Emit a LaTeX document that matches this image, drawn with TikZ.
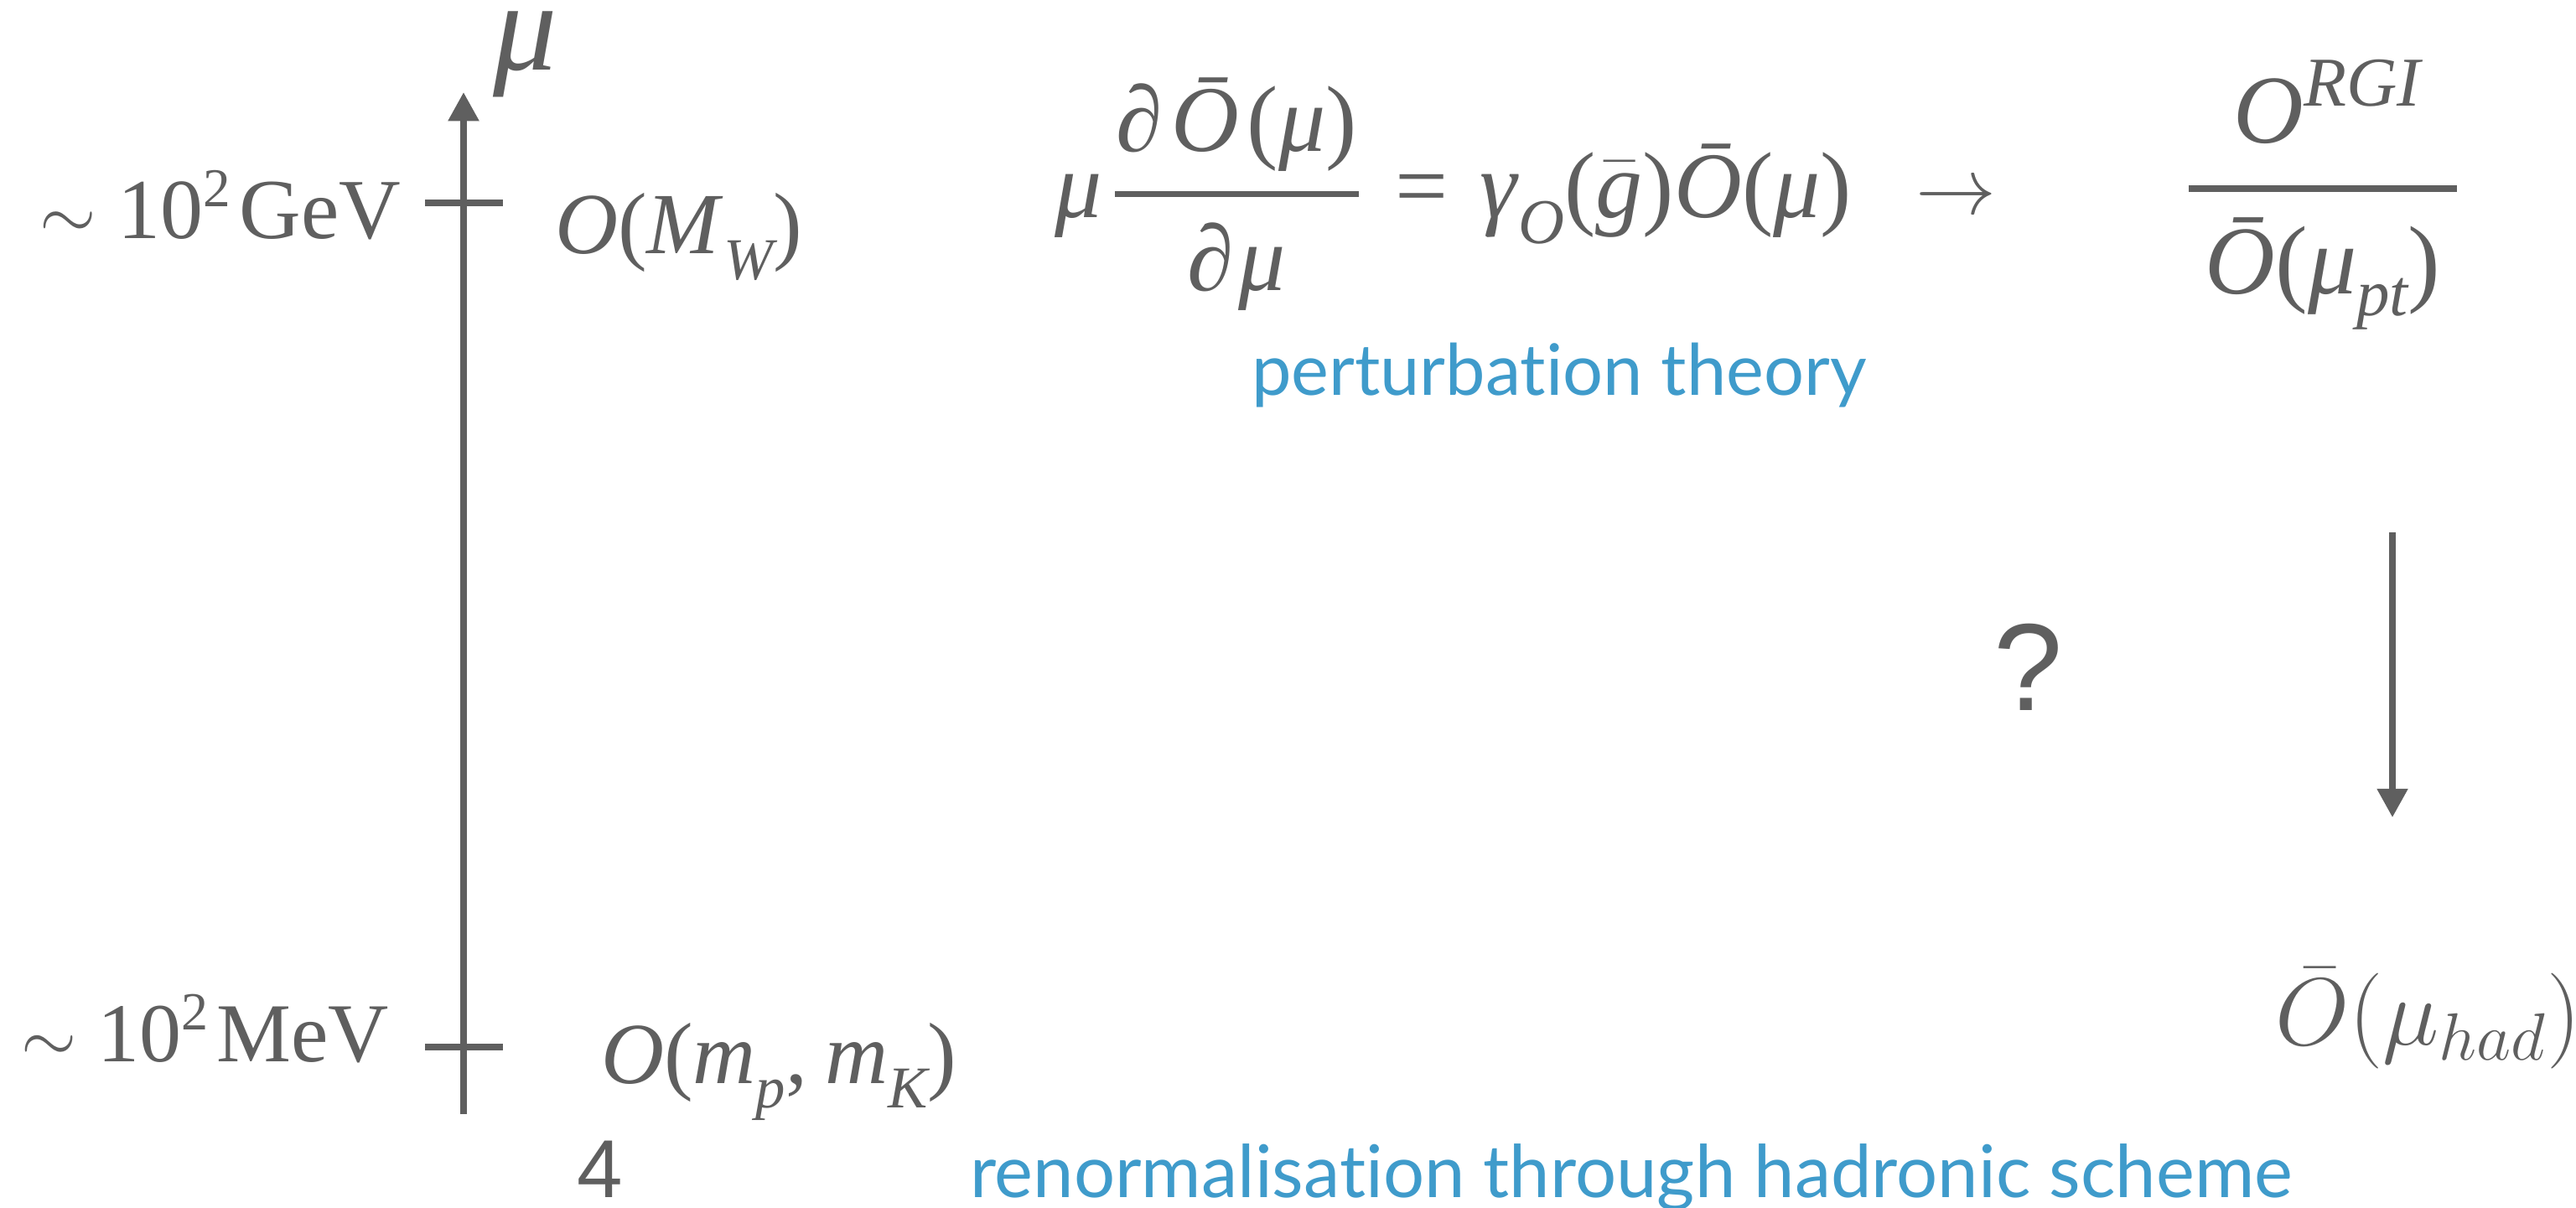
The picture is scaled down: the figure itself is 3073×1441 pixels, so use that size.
\RequirePackage{fix-cm}
\documentclass[tikz,border=0pt]{standalone}
\usepackage[no-math]{fontspec}
\usepackage{graphicx}
\setmainfont{Liberation Serif}
\newfontfamily\sansf{Liberation Sans}
\newfontfamily\bluef[Ligatures={NoCommon,NoRequired,NoContextual}]{Lato}
\usetikzlibrary{arrows.meta}
\definecolor{gry}{RGB}{95,95,95}
\definecolor{blu}{RGB}{63,155,203}
\newcommand\tsub[2][0.27em]{\raisebox{-#1}{\scalebox{0.68}{\itshape #2}}}
\newcommand\tsup[1]{\raisebox{0.38em}{\scalebox{0.64}{#1}}}
\newcommand\fs[1]{\fontsize{#1}{#1}\selectfont}
\newcommand\simb{\scalebox{0.85}{$\sim$}}
\begin{document}
\begin{tikzpicture}[x=0.25pt,y=-0.25pt,
  lbl/.style={inner sep=0pt,outer sep=0pt,text=gry},
  bluetxt/.style={inner sep=0pt,outer sep=0pt,text=blu,font=\bluef},
  axisline/.style={draw=gry,line width=2pt},
  fracbar/.style={draw=gry,line width=1.9pt},
  arr/.style={draw=gry,line width=1.8pt,-{Triangle[length=8.6pt,width=8.8pt]}}]
\useasboundingbox (0,0) rectangle (3073,1441);
% axis
\coordinate (axbot) at (553,1329);
\coordinate (axtop) at (553,110);
\draw[arr,line width=2pt] (axbot) -- (axtop);
\coordinate (t1a) at (507,242); \coordinate (t1b) at (600,242);
\coordinate (t2a) at (507,1249); \coordinate (t2b) at (600,1249);
\draw[axisline] (t1a) -- (t1b);
\draw[axisline] (t2a) -- (t2b);
\node[lbl,anchor=base west] (mulab) at (588,84) {\fs{38}\itshape μ};
% axis labels
\node[lbl,anchor=base east] (gev) at (478,285) {\fs{25.5}\simb\ 10\tsup{2}\kern0.1em GeV};
\node[lbl,anchor=base west] (mw) at (662,303) {\fs{26}\textit{O}(\textit{M}\tsub[0.29em]{W})};
\node[lbl,anchor=base east] (mev) at (464,1266) {\fs{25}\simb\ 10\tsup{2}\kern0.1em MeV};
\node[lbl,anchor=base west] (mpk) at (717,1293) {\fs{26}\textit{O}(\textit{m}\tsub{p},\kern0.2em\textit{m}\tsub{K})};
\node[lbl,anchor=base west] (four) at (688,1428) {\sansf\fs{24.5}4};
% equation
\node[lbl,anchor=base west] (mu1) at (1258,260) {\fs{28}\itshape μ};
\node[lbl,anchor=base] (num) at (1475,181) {\fs{28}\textit{∂}\kern0.1em\textit{Ō}\kern0.08em(\textit{μ})};
\node[lbl,anchor=base] (den) at (1475,347) {\fs{28}\textit{∂}\kern0.05em\textit{μ}};
\coordinate (f1a) at (1330,232); \coordinate (f1b) at (1621,232);
\draw[fracbar,line width=1.75pt] (f1a) -- (f1b);
\node[lbl,anchor=base] (eq) at (1696,260) {\fs{28}=};
\node[lbl,anchor=base west] (rhs) at (1765,260) {\fs{28}\textit{γ}\tsub{O}($\bar{\hbox{\itshape g}}$)\textit{Ō}(\textit{μ})};
\node[lbl,anchor=base] (to) at (2333,256) {\fs{24}$\rightarrow$};
% RGI fraction
\node[lbl,anchor=base] (rgi) at (2776,171) {\fs{29}\itshape O\raisebox{0.38em}{\scalebox{0.72}{RGI}}};
\coordinate (f2a) at (2611,225); \coordinate (f2b) at (2931,225);
\draw[fracbar] (f2a) -- (f2b);
\node[lbl,anchor=base] (pt) at (2771,351) {\fs{29}\textit{Ō}(\textit{μ}\tsub[0.22em]{pt})};
\node[lbl,anchor=base west] (q) at (2378,848) {\sansf\fs{37}?};
\coordinate (dtop) at (2854,635);
\coordinate (dbot) at (2854,975);
\draw[arr,-{Triangle[length=8.5pt,width=8.8pt]}] (dtop) -- (dbot);
\node[lbl,anchor=base west] (had) at (2714,1247) {\fs{28.5}$\bar{O}(\mu_{had})$};
% blue labels
\node[bluetxt,anchor=base west] (pert) at (1493,472) {\fs{21.2}perturbation theory};
\node[bluetxt,anchor=base west] (renorm) at (1157,1428) {\fs{21.7}renormalisation through hadronic scheme};
\end{tikzpicture}
\end{document}
